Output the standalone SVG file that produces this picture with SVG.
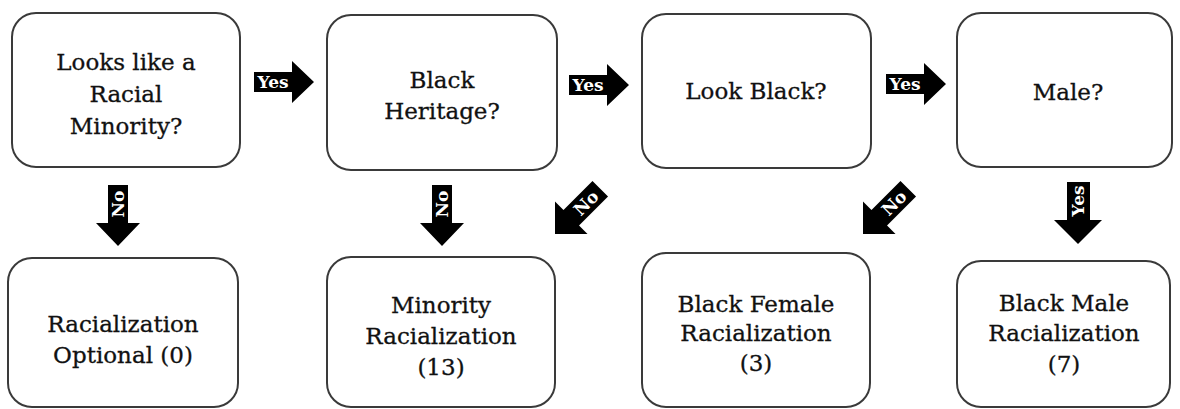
<svg xmlns="http://www.w3.org/2000/svg" width="1180" height="409" viewBox="0 0 1180 409">
<style>
.box{fill:#fff;stroke:#3a3a3a;stroke-width:2}
.t{font-family:"DejaVu Serif","Liberation Serif",serif;font-size:23px;fill:#111;stroke:#111;stroke-width:0.3;text-anchor:middle}
.arr{fill:#000}
.lbl{font-family:"DejaVu Serif","Liberation Serif",serif;font-weight:bold;font-size:17px;fill:#fff;text-anchor:middle;dominant-baseline:central}
</style>
<defs>
<path id="rarrow" d="M0,-10 L38,-10 L38,-21 L60,0 L38,21 L38,10 L0,10 Z"/>
<path id="larrow" d="M0,0 L23,-23 L23,-11 L64,-11 L64,11 L23,11 L23,23 Z"/>
</defs>
<g id="n1"><rect class="box" x="12" y="13" width="228" height="154" rx="24"/><text class="t" x="126" y="70">Looks like a</text><text class="t" x="126" y="102">Racial</text><text class="t" x="126" y="134">Minority?</text></g>
<g id="n2"><rect class="box" x="327" y="15" width="230" height="155" rx="24"/><text class="t" x="442" y="88">Black</text><text class="t" x="442" y="119">Heritage?</text></g>
<g id="n3"><rect class="box" x="642" y="14" width="229" height="154" rx="24"/><text class="t" x="756" y="99">Look Black?</text></g>
<g id="n4"><rect class="box" x="957" y="13" width="215" height="154" rx="24"/><text class="t" x="1068" y="100">Male?</text></g>
<g id="n5"><rect class="box" x="8" y="258" width="230" height="149" rx="24"/><text class="t" x="123" y="332">Racialization</text><text class="t" x="123" y="363">Optional (0)</text></g>
<g id="n6"><rect class="box" x="327" y="257" width="228" height="150" rx="24"/><text class="t" x="441" y="313">Minority</text><text class="t" x="441" y="344">Racialization</text><text class="t" x="441" y="375">(13)</text></g>
<g id="n7"><rect class="box" x="642" y="253" width="228" height="154" rx="24"/><text class="t" x="756" y="312">Black Female</text><text class="t" x="756" y="341">Racialization</text><text class="t" x="756" y="371">(3)</text></g>
<g id="n8"><rect class="box" x="957" y="261" width="213" height="146" rx="24"/><text class="t" x="1064" y="311">Black Male</text><text class="t" x="1064" y="341">Racialization</text><text class="t" x="1064" y="372">(7)</text></g>
<g id="connectors">
<g transform="translate(254,82)"><use href="#rarrow" class="arr"/><text class="lbl" x="19" y="0">Yes</text></g>
<g transform="translate(569,85)"><use href="#rarrow" class="arr"/><text class="lbl" x="19" y="0">Yes</text></g>
<g transform="translate(886,84)"><use href="#rarrow" class="arr"/><text class="lbl" x="19" y="0">Yes</text></g>
<path class="arr" d="M108,185 H128 V223 H140 L118,246 L96,223 H108 Z"/>
<text class="lbl" transform="translate(118,204) rotate(-90)">No</text>
<path class="arr" d="M432,185 H452 V223 H464 L442,246 L420,223 H432 Z"/>
<text class="lbl" transform="translate(442,204) rotate(-90)">No</text>
<path class="arr" d="M1067,182 H1090 V220 H1102 L1078,244 L1054,220 H1067 Z"/>
<text class="lbl" transform="translate(1078,201) rotate(-90)">Yes</text>
<g transform="translate(555,234) rotate(-45)"><use href="#larrow" class="arr"/><text class="lbl" x="44" y="0">No</text></g>
<g transform="translate(863,234) rotate(-45)"><use href="#larrow" class="arr"/><text class="lbl" x="44" y="0">No</text></g>
</g>
</svg>
